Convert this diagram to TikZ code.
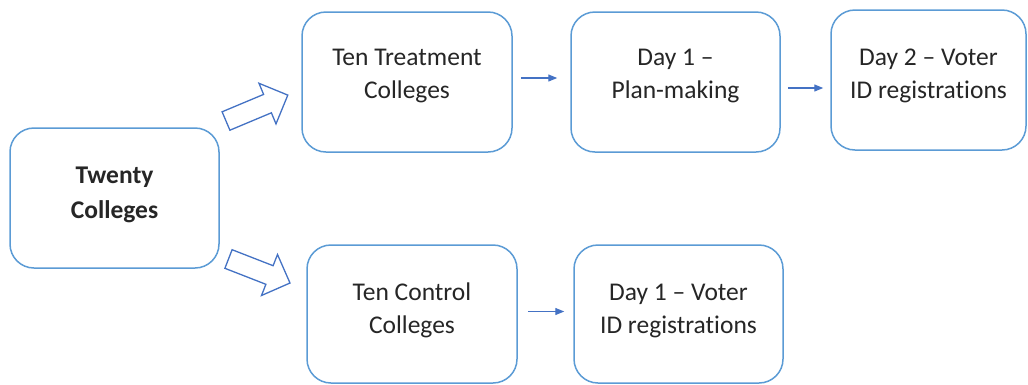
\documentclass[tikz,border=0pt]{standalone}
\usepackage{fontspec}
\setmainfont[Ligatures={NoCommon,TeX}]{Carlito}
\usetikzlibrary{arrows.meta}
\definecolor{boxblue}{HTML}{5B9BD5}
\definecolor{arrblue}{HTML}{4472C4}
\begin{document}
\begin{tikzpicture}[x=1pt,y=-1pt,
  box/.style={draw=boxblue, line width=1.5pt, rounded corners=24pt, fill=white, minimum height=140pt, minimum width=209pt, inner sep=0pt},
  lbl/.style={align=center, font=\fontsize{25.5}{33}\selectfont, text=black!85, inner sep=0pt},
  sarrow/.style={draw=arrblue, line width=1.2pt, -{Triangle[length=9pt,width=7pt]}},
  barrow/.style={draw=arrblue, line width=1.3pt, fill=white, line join=miter}]
\useasboundingbox (0,0) rectangle (1028,384);
% boxes
\node[box] (tw) at (114.5,198) {};
\node[box, minimum width=210pt] (tr) at (407,82) {};
\node[box] (pl) at (675.5,82) {};
\node[box, minimum width=195pt] (d2) at (928.5,80) {};
\node[box, minimum width=210pt, minimum height=138pt] (co) at (412,314) {};
\node[box, minimum height=138pt] (d1) at (678.5,314) {};
% labels
\node[lbl, font=\fontsize{25.5}{35}\selectfont\bfseries] (twl) at ([yshift=3pt]tw.center) {Twenty\\Colleges};
\node[lbl] (trl) at ([yshift=6pt]tr.center) {Ten Treatment\\Colleges};
\node[lbl] (pll) at ([yshift=6pt]pl.center) {Day 1 –\\Plan-making};
\node[lbl] (d2l) at ([yshift=4pt]d2.center) {Day 2 – Voter\\ID registrations};
\node[lbl] (col) at ([yshift=3.5pt]co.center) {Ten Control\\Colleges};
\node[lbl] (d1l) at ([yshift=3.5pt]d1.center) {Day 1 – Voter\\ID registrations};
% small arrows
\draw[sarrow] ([xshift=8pt,yshift=4pt]tr.east) -- ([xshift=-13pt,yshift=4pt]pl.west);
\draw[sarrow] ([xshift=7pt,yshift=-6pt]pl.east) -- ([xshift=-7pt,yshift=-8pt]d2.west);
\draw[sarrow] ([xshift=10pt,yshift=2.5pt]co.east) -- ([xshift=-9pt,yshift=2.5pt]d1.west);
% block arrows
\draw[barrow] (222.1,111.8) -- (263.6,94.4) -- (259,83.3) -- (287.8,95.1) -- (276,123.9) -- (271.4,112.8) -- (229.9,130.2) -- cycle;
\draw[barrow] (232.1,249.7) -- (273.1,265.7) -- (277.5,254.5) -- (290,283) -- (261.5,295.5) -- (265.9,284.3) -- (224.9,268.3) -- cycle;
\end{tikzpicture}
\end{document}
